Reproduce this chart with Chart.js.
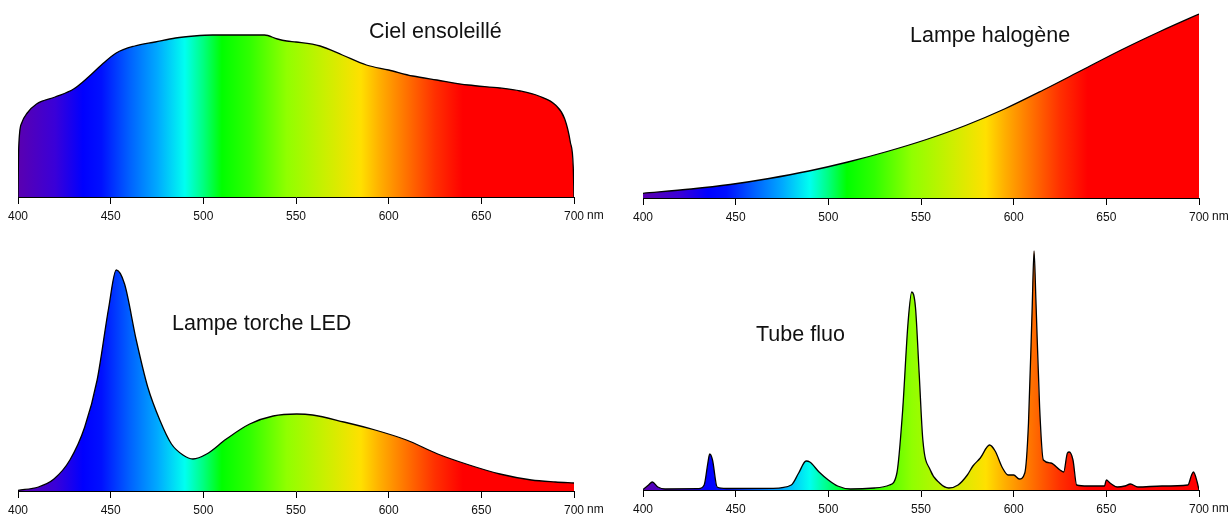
<!DOCTYPE html>
<html>
<head>
<meta charset="utf-8">
<title>Spectres</title>
<script src="https://cdn.jsdelivr.net/npm/chart.js@4.4.1/dist/chart.umd.min.js"></script>
<style>
    body { margin: 0; background: #fff; width: 1228px; height: 516px; position: relative; overflow: hidden; }
    .panel { position: absolute; width: 614px; }
</style>
</head>
<body>
<div class="panel" style="left:0;top:0;height:227px"><canvas id="ciel"></canvas></div>
<div class="panel" style="left:614px;top:0;height:228px"><canvas id="halo"></canvas></div>
<div class="panel" style="left:0;top:240px;height:281px"><canvas id="led"></canvas></div>
<div class="panel" style="left:614px;top:240px;height:280px"><canvas id="fluo"></canvas></div>
<script>
// wavelengths (nm) and relative intensity
const cielNm  = [400, 400.4, 402, 405, 410, 420, 430, 438, 445, 453, 463, 474, 485, 495, 505, 515, 525, 533, 540, 545, 550, 563, 575, 588, 600, 613, 626, 643, 660, 671, 681, 690, 695, 698, 699.6, 700];
const cielVal = [0, 50, 74, 84, 93, 100, 108, 120, 132, 144, 151, 155, 159, 161, 162, 162, 162, 162, 158, 156, 155, 151, 142, 132, 127, 121, 117, 112, 109, 106, 101, 92, 78, 55, 30, 0];

const haloNm  = [400, 426, 447, 468, 489.5, 510.6, 531.7, 552.9, 574, 595, 616, 637, 658, 679.5, 700];
const haloVal = [4.7, 9, 13.5, 19.5, 27, 36, 46.5, 58.5, 72.5, 89, 108, 128, 148, 167, 184];

const ledNm  = [400, 411, 419.4, 428, 436, 442.7, 449, 453, 457.5, 463.8, 470, 476.5, 482.8, 489, 494.4, 501.8, 512.4, 525, 537.7, 550.4, 558.9, 575.8, 592.7, 609.6, 626.5, 643.5, 660, 677, 690, 700];
const ledVal = [0.7, 4, 12, 31, 64, 111, 184, 221, 207, 151, 104, 71, 47, 36, 32, 37, 52, 67, 75, 77, 76, 69, 61, 51, 37, 26, 17, 11, 9, 8];

const fluoNm  = [400, 403, 405, 408, 412, 430, 433, 435, 436, 437.5, 440, 445, 470, 480, 484, 488, 490, 495, 500, 505, 512, 525, 533, 537, 540, 543, 545, 547, 549, 551, 555, 560, 565, 570, 575, 578, 582, 587, 590, 594, 597, 600, 603, 606, 608, 610, 611, 612, 614, 616, 620, 625, 627, 629, 630, 632, 634, 640, 649, 650, 652, 656, 660, 663, 667, 680, 694, 696, 697, 699, 700];
const fluoVal = [0.5, 5, 8, 3, 1, 1.3, 5, 27, 36, 30, 3, 1.5, 1.7, 5, 17, 29, 28, 18, 10, 4, 1, 2, 5, 17, 77, 167, 198, 183, 117, 50, 20, 7, 2, 5, 15, 24, 32, 45, 39, 22, 15, 15, 11, 17, 67, 183, 239, 190, 83, 30, 27, 20, 18, 37, 38, 30, 5, 4, 4, 10, 7, 3, 4, 6, 3, 4, 5, 15, 18, 8, 0];

const tickNm = [400, 450, 500, 550, 600, 650, 700];
const titles = ['Ciel ensoleillé', 'Lampe halogène', 'Lampe torche LED', 'Tube fluo'];

// colour of the light at a given wavelength
const rainbowNm  = [400, 420, 435, 445, 460, 475, 490, 500, 510, 525, 545, 565, 585, 595, 610, 625, 640, 700];
const rainbowHex = ['#5a00b0', '#3a00d8', '#0000ff', '#0010ff', '#0060ff', '#00a8ff', '#00fff0', '#00ff80', '#00ff00', '#30ff00', '#90ff00', '#c8f000', '#ffe000', '#ffb000', '#ff7000', '#ff3000', '#ff0000', '#ff0000'];

function rainbowFill(context) {
    const chart = context.chart;
    if (!chart.chartArea) return '#888';
    const x = chart.scales.x;
    const x0 = x.getPixelForValue(400);
    const x1 = x.getPixelForValue(700);
    const g = chart.ctx.createLinearGradient(x0, 0, x1, 0);
    for (let i = 0; i < rainbowNm.length; i++) {
        g.addColorStop((rainbowNm[i] - 400) / 300, rainbowHex[i]);
    }
    return g;
}

// title + "nm" after the last tick
const panelText = {
    id: 'panelText',
    afterDraw(chart, args, opts) {
        const ctx = chart.ctx;
        ctx.save();
        ctx.fillStyle = '#111';
        ctx.font = '21.5px "Liberation Sans", Arial, sans-serif';
        ctx.textAlign = 'left';
        ctx.textBaseline = 'middle';
        ctx.fillText(opts.title, opts.tx, opts.ty);

        const x = chart.scales.x;
        ctx.font = '12px "Liberation Sans", Arial, sans-serif';
        ctx.textBaseline = 'top';
        ctx.fillText('nm', x.getPixelForValue(700) + 13, x.top + 13);
        ctx.restore();
    }
};

function edge(w, v) {
    return {
        data: [{ x: w, y: 0 }, { x: w, y: v }],
        borderColor: '#000',
        borderWidth: 1.3,
        fill: false,
        pointRadius: 0
    };
}

function makeChart(id, nm, val, title, tx, ty, pad, yMax) {
    const points = nm.map((w, i) => ({ x: w, y: val[i] }));
    const last = nm.length - 1;
    return new Chart(document.getElementById(id), {
        type: 'line',
        data: {
            datasets: [{
                data: points,
                borderColor: '#000',
                borderWidth: 1.3,
                backgroundColor: rainbowFill,
                fill: 'origin',
                pointRadius: 0,
                cubicInterpolationMode: 'monotone'
            }, edge(nm[0], val[0]), edge(nm[last], val[last])]
        },
        options: {
            responsive: true,
            maintainAspectRatio: false,
            animation: false,
            layout: { padding: pad },
            plugins: {
                legend: { display: false },
                tooltip: { enabled: false },
                panelText: { title: title, tx: tx, ty: ty }
            },
            scales: {
                x: {
                    type: 'linear',
                    min: 400,
                    max: 700,
                    afterBuildTicks: (scale) => { scale.ticks = tickNm.map(v => ({ value: v })); },
                    afterFit: (scale) => { scale.height = 30; },
                    grid: { drawOnChartArea: false, drawTicks: true, tickLength: 7, color: '#000', lineWidth: 1 },
                    border: { display: true, color: '#000', width: 1 },
                    ticks: {
                        color: '#111',
                        padding: 5,
                        maxRotation: 0,
                        font: { family: '"Liberation Sans", Arial, sans-serif', size: 12 }
                    }
                },
                y: { display: false, min: 0, max: yMax }
            }
        },
        plugins: [panelText]
    });
}

makeChart('ciel', cielNm, cielVal, titles[0], 369, 32, { left: 18, right: 40, top: 10, bottom: 0 }, 187);
makeChart('halo', haloNm, haloVal, titles[1], 296, 36, { left: 29, right: 29, top: 10, bottom: 0 }, 188);
makeChart('led', ledNm, ledVal, titles[2], 172, 84, { left: 18, right: 40, top: 10, bottom: 0 }, 241);
makeChart('fluo', fluoNm, fluoVal, titles[3], 142, 95, { left: 29, right: 29, top: 10, bottom: 0 }, 240);
</script>
</body>
</html>
